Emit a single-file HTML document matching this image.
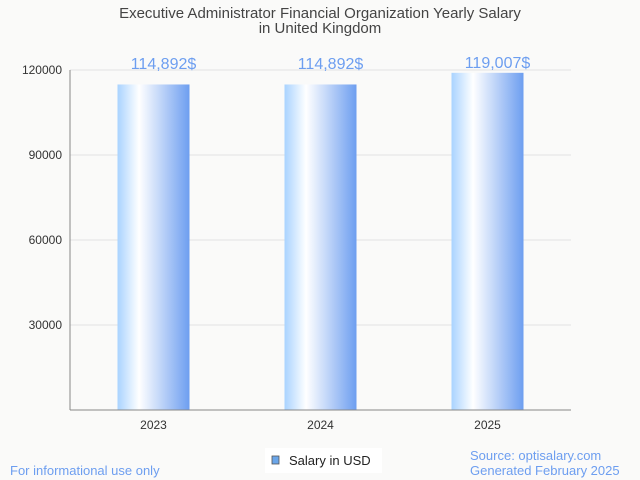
<!DOCTYPE html>
<html><head><meta charset="utf-8"><style>
body{margin:0;background:#fafaf9;}
svg{display:block;font-family:"Liberation Sans",sans-serif;}
</style></head><body>
<svg id="c" width="640" height="480">
<defs><linearGradient id="g" x1="0" x2="1" y1="0" y2="0">
<stop offset="0" stop-color="#a9d3ff"/><stop offset="0.3" stop-color="#ffffff"/><stop offset="1" stop-color="#6d9ef0"/>
</linearGradient></defs>
<rect width="640" height="480" fill="#fafaf9"/>
<text x="320" y="18" text-anchor="middle" font-size="15" fill="#444">Executive Administrator Financial Organization Yearly Salary</text>
<text x="320" y="33" text-anchor="middle" font-size="15" fill="#444">in United Kingdom</text>
<g id="grid"></g><g id="bars"></g>
<line x1="70" y1="70" x2="70" y2="410" stroke="#888"/>
<line x1="70" y1="410" x2="571" y2="410" stroke="#888"/>
<rect x="265" y="448" width="117" height="25" fill="#fff"/>
<rect x="272" y="456" width="7" height="8" fill="#6aa5e8" stroke="#555" stroke-width="0.8"/>
<text x="289" y="465" font-size="13" fill="#222">Salary in USD</text>
<text x="10" y="475" font-size="13" fill="#6d9ef0">For informational use only</text>
<text x="470" y="460" font-size="13" fill="#6d9ef0">Source: optisalary.com</text>
<text x="470" y="475" font-size="13" fill="#6d9ef0">Generated February 2025</text>
</svg>
<script>
const categories=["2023","2024","2025"];
const values=[114892,114892,119007];
const labels=["114,892$","114,892$","119,007$"];
const ticks=[30000,60000,90000,120000];
const ns="http://www.w3.org/2000/svg";
const x0=70,x1=571,yb=410,yt=70,ymax=120000;
const y=v=>yb-(v/ymax)*(yb-yt);
const bw=(x1-x0)/categories.length;
const xc=i=>x0+bw*(i+0.5);
function mk(t,a,p){const e=document.createElementNS(ns,t);for(const k in a)e.setAttribute(k,a[k]);p.appendChild(e);return e;}
const grid=document.getElementById('grid'),bars=document.getElementById('bars');
ticks.forEach(t=>{
 const l=mk('line',{x1:x0,x2:x1,y1:y(t),y2:y(t),stroke:'#e2e2e2'},grid);
 
 
 const tx=mk('text',{x:x0-8,y:y(t)+4,'text-anchor':'end','font-size':12,fill:'#333'},grid);
 tx.textContent=t;
 
 
});
categories.forEach((c,i)=>{
 const r=mk('rect',{x:xc(i)-36,y:y(values[i]),width:72,height:yb-y(values[i]),fill:'url(#g)'},bars);
 
 
 const v=mk('text',{x:xc(i)+10,y:Math.min(y(values[i])-5,69),'text-anchor':'middle','font-size':16,fill:'#6d9ef0'},bars);
 v.textContent=labels[i];
 
 
 const xl=mk('text',{x:xc(i),y:429,'text-anchor':'middle','font-size':12,fill:'#333'},bars);
 xl.textContent=c;
 
 
});
</script>
</body></html>
